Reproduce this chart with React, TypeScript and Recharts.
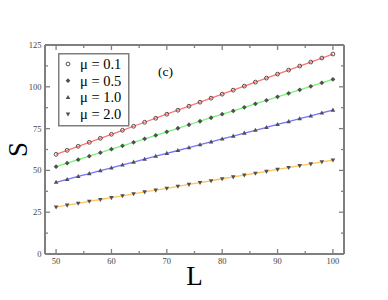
import React from 'react';
import {
  LineChart, Line, XAxis, YAxis, Legend, Label,
} from 'recharts';

// system size L and entropy S for each mu
const L_VALUES = [50, 52, 54, 56, 58, 60, 62, 64, 66, 68, 70, 72, 74, 76, 78, 80, 82, 84, 86, 88, 90, 92, 94, 96, 98, 100];
const S_MU01 = [59.6, 62.0, 64.4, 66.8, 69.2, 71.6, 74.0, 76.4, 78.8, 81.2, 83.6, 86.0, 88.4, 90.8, 93.2, 95.6, 98.0, 100.4, 102.8, 105.2, 107.6, 110.0, 112.4, 114.8, 117.2, 119.6];
const S_MU05 = [52.2, 54.3, 56.4, 58.5, 60.6, 62.7, 64.7, 66.8, 68.9, 71.0, 73.1, 75.2, 77.3, 79.4, 81.5, 83.6, 85.6, 87.7, 89.8, 91.9, 94.0, 96.1, 98.2, 100.3, 102.4, 104.5];
const S_MU10 = [42.9, 44.6, 46.4, 48.1, 49.8, 51.5, 53.3, 55.0, 56.7, 58.5, 60.2, 61.9, 63.6, 65.4, 67.1, 68.8, 70.5, 72.3, 74.0, 75.7, 77.5, 79.2, 80.9, 82.6, 84.4, 86.1];
const S_MU20 = [28.1, 29.2, 30.3, 31.5, 32.6, 33.7, 34.8, 36.0, 37.1, 38.2, 39.3, 40.5, 41.6, 42.7, 43.8, 45.0, 46.1, 47.2, 48.3, 49.4, 50.6, 51.7, 52.8, 53.9, 55.1, 56.2];

const X_MAJOR = [50, 60, 70, 80, 90, 100];
const X_MINOR = [55, 65, 75, 85, 95];
const Y_MAJOR = [0, 25, 50, 75, 100, 125];
const Y_MINOR = [12.5, 37.5, 62.5, 87.5, 112.5];

const SERIES = [
  { key: 'mu01', label: 'μ = 0.1', color: '#ff7373', marker: 'circle' },
  { key: 'mu05', label: 'μ = 0.5', color: '#73f573', marker: 'diamond' },
  { key: 'mu10', label: 'μ = 1.0', color: '#7373ff', marker: 'up' },
  { key: 'mu20', label: 'μ = 2.0', color: '#ffc35a', marker: 'down' },
];

const data = L_VALUES.map((L, i) => ({
  L, mu01: S_MU01[i], mu05: S_MU05[i], mu10: S_MU10[i], mu20: S_MU20[i],
}));

const AXIS = '#7f7f7f';
const FONT = '"Liberation Serif", "DejaVu Serif", serif';

const Marker = ({ cx, cy, type }: { cx: number; cy: number; type: string }) => {
  const c = '#505050';
  if (type === 'circle') return <circle cx={cx} cy={cy} r={1.9} fill="none" stroke={c} strokeWidth={1} />;
  if (type === 'diamond') return <path d={`M${cx},${cy - 2.4}L${cx + 2.4},${cy}L${cx},${cy + 2.4}L${cx - 2.4},${cy}Z`} fill={c} />;
  if (type === 'up') return <path d={`M${cx},${cy - 2.5}L${cx + 2.3},${cy + 1.6}L${cx - 2.3},${cy + 1.6}Z`} fill={c} />;
  return <path d={`M${cx},${cy + 2.5}L${cx + 2.3},${cy - 1.6}L${cx - 2.3},${cy - 1.6}Z`} fill={c} />;
};

// ticks point inward on all four sides, labels only on bottom/left
const makeTick = (side: 'bottom' | 'top' | 'left' | 'right', major: number[]) => (props: any) => {
  const { x, y, payload } = props;
  const isMajor = major.includes(payload.value);
  const len = isMajor ? 5 : 3;
  let x2 = x, y2 = y;
  if (side === 'bottom') y2 = y - len;
  if (side === 'top') y2 = y + len;
  if (side === 'left') x2 = x + len;
  if (side === 'right') x2 = x - len;
  return (
    <g>
      <line x1={x} y1={y} x2={x2} y2={y2} stroke={AXIS} strokeWidth={1.3} />
      {isMajor && side === 'bottom' && (
        <text x={x} y={y + 10} textAnchor="middle" fontSize={8.5} fontFamily={FONT} fill="#444">{payload.value}</text>
      )}
      {isMajor && side === 'left' && (
        <text x={x - 3.5} y={y + 3} textAnchor="end" fontSize={8.5} fontFamily={FONT} fill="#444">{payload.value}</text>
      )}
    </g>
  );
};

const LegendBox = () => (
  <svg width={72} height={74} style={{ display: 'block' }}>
    <rect x={0.75} y={0.75} width={70} height={72} fill="#fff" stroke={AXIS} strokeWidth={1.5} />
    {SERIES.map((s, i) => (
      <g key={s.key}>
        <Marker cx={10} cy={11 + i * 16.7} type={s.marker} />
        <text x={22} y={16 + i * 16.7} fontSize={14.5} fontFamily={FONT} fill="#000">{s.label}</text>
      </g>
    ))}
  </svg>
);

export default function App() {
  const xTicks = [...X_MAJOR, ...X_MINOR].sort((a, b) => a - b);
  const yTicks = [...Y_MAJOR, ...Y_MINOR].sort((a, b) => a - b);
  return (
    <div style={{ position: 'relative', width: 388, height: 300, margin: -8 }}>
      <LineChart width={388} height={300} data={data} margin={{ top: 44, right: 43, bottom: 45, left: 44 }}>
        <XAxis
          xAxisId="b" dataKey="L" type="number" domain={[48, 102]} allowDataOverflow
          ticks={xTicks} interval={0} height={1} tickSize={0} tickMargin={0} tickLine={false}
          axisLine={{ stroke: AXIS, strokeWidth: 2 }} tick={makeTick('bottom', X_MAJOR)}
        >
          <Label content={({ viewBox }: any) => (
            <text x={viewBox.x + viewBox.width / 2} y={viewBox.y + 31} textAnchor="middle" fontSize={27} fontFamily={FONT}>L</text>
          )} />
        </XAxis>
        <XAxis
          xAxisId="t" orientation="top" dataKey="L" type="number" domain={[48, 102]} allowDataOverflow
          ticks={xTicks} interval={0} height={1} tickSize={0} tickMargin={0} tickLine={false}
          axisLine={{ stroke: AXIS, strokeWidth: 2 }} tick={makeTick('top', X_MAJOR)}
        />
        <YAxis
          yAxisId="l" type="number" domain={[0, 125]} allowDataOverflow
          ticks={yTicks} interval={0} width={1} tickSize={0} tickMargin={0} tickLine={false}
          axisLine={{ stroke: AXIS, strokeWidth: 2 }} tick={makeTick('left', Y_MAJOR)}
        >
          <Label content={({ viewBox }: any) => {
            const cx = viewBox.x - 26;
            const cy = viewBox.y + viewBox.height / 2;
            return (
              <text x={cx} y={cy} transform={`rotate(-90 ${cx} ${cy})`} textAnchor="middle" dominantBaseline="central" fontSize={27} fontFamily={FONT}>S</text>
            );
          }} />
        </YAxis>
        <YAxis
          yAxisId="r" orientation="right" type="number" domain={[0, 125]} allowDataOverflow
          ticks={yTicks} interval={0} width={1} tickSize={0} tickMargin={0} tickLine={false}
          axisLine={{ stroke: AXIS, strokeWidth: 2 }} tick={makeTick('right', Y_MAJOR)}
        />
        {SERIES.map((s) => (
          <Line
            key={s.key}
            xAxisId="b"
            yAxisId="l"
            dataKey={s.key}
            stroke={s.color}
            strokeWidth={1.3}
            type="linear"
            isAnimationActive={false}
            dot={(p: any) => <Marker key={`${s.key}-${p.index}`} cx={p.cx} cy={p.cy} type={s.marker} />}
            activeDot={false}
          />
        ))}
        <Legend
          layout="horizontal" verticalAlign="middle" align="center"
          wrapperStyle={{ left: 58, top: 53, width: 72, height: 74 }}
          content={() => <LegendBox />}
        />
      </LineChart>
      <div style={{ position: 'absolute', left: 158, top: 64, fontFamily: FONT, fontSize: 13.5, lineHeight: '16px' }}>(c)</div>
    </div>
  );
}
